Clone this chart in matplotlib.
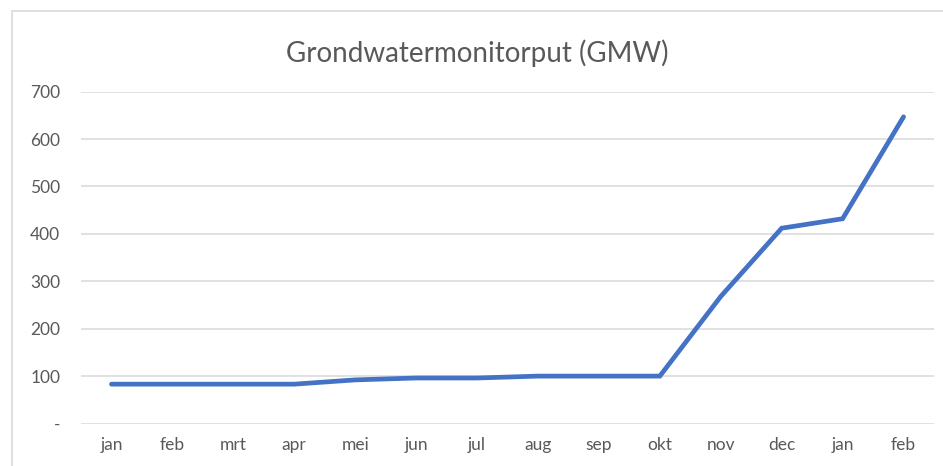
import matplotlib
matplotlib.use("Agg")
import matplotlib.pyplot as plt
from matplotlib.patches import Rectangle

months = ["jan", "feb", "mrt", "apr", "mei", "jun", "jul", "aug", "sep", "okt", "nov", "dec", "jan", "feb"]
values = [83, 83, 83, 83, 92, 96, 96, 100, 100, 100, 268, 412, 432, 647]
y_ticks = [0, 100, 200, 300, 400, 500, 600, 700]
y_tick_labels = ["-", "100", "200", "300", "400", "500", "600", "700"]
title = "Grondwatermonitorput (GMW)"

plt.rcParams['font.family'] = ['Lato', 'DejaVu Sans']

W, H = 943, 466
fig = plt.figure(figsize=(W / 100, H / 100), dpi=100)
fig.patch.set_facecolor("white")

# chart border
fig.patches.append(Rectangle((12 / W, -0.05), 1.1, 1 - 11 / H + 0.05,
                             transform=fig.transFigure, fill=False,
                             edgecolor="#d9d9d9", linewidth=1.2, clip_on=False))

left, right = 81 / W, 934 / W
bottom, top = 1 - 423.5 / H, 1 - 91.7 / H
ax = fig.add_axes([left, bottom, right - left, top - bottom])

x = list(range(len(months)))
ax.plot(x, values, color="#4472C4", linewidth=3.4, solid_capstyle="round", solid_joinstyle="miter", zorder=3)

ax.set_xlim(-0.5, len(months) - 0.5)
ax.set_ylim(0, 700)
ax.set_yticks(y_ticks)
ax.set_yticklabels(y_tick_labels)
ax.set_xticks(x)
ax.set_xticklabels(months)

ax.grid(axis="y", color="#d9d9d9", linewidth=1.1)
ax.set_axisbelow(True)
for s in ax.spines.values():
    s.set_visible(False)
ax.tick_params(axis="both", length=0, colors="#595959", labelsize=12.5)
ax.tick_params(axis="y", pad=15)
ax.tick_params(axis="x", pad=10)

fig.text(0.506, 1 - 53 / H, title, ha="center", va="center", fontsize=20, color="#595959")

fig.savefig("out.png", dpi=100)
